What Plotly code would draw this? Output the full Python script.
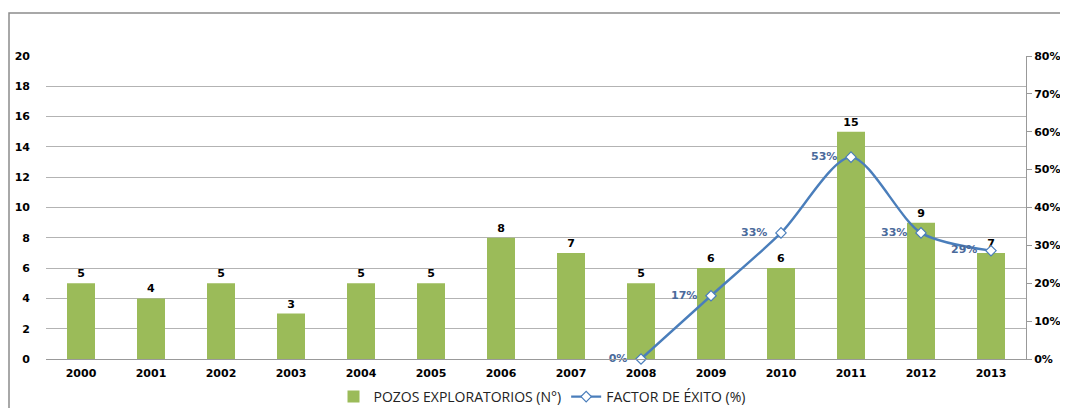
import plotly.graph_objects as go

years = ["2000", "2001", "2002", "2003", "2004", "2005", "2006", "2007",
         "2008", "2009", "2010", "2011", "2012", "2013"]
pozos = [5, 4, 5, 3, 5, 5, 8, 7, 5, 6, 6, 15, 9, 7]
factor_years = ["2008", "2009", "2010", "2011", "2012", "2013"]
factor = [0.0, 0.167, 0.333, 0.533, 0.333, 0.286]
factor_labels = ["0%", "17%", "33%", "53%", "33%", "29%"]

# page has an 8px body margin; figure coordinates are page coords minus 8
OFF = 8
W, H = 1068 - OFF, 408 - OFF
ml, mr, mt, mb = 46 - OFF, 1068 - 1026, 56 - OFF, 408 - 359
pw, ph = W - ml - mr, H - mt - mb

TICKFONT = dict(family="DejaVu Sans", size=11, color="#000000", weight="bold")

fig = go.Figure()
fig.add_trace(go.Bar(
    x=years, y=pozos, name="POZOS EXPLORATORIOS (N°)",
    marker=dict(color="#9bbb59", line=dict(width=0)),
    width=0.4,
    text=[str(v) for v in pozos], textposition="outside",
    textfont=dict(family="DejaVu Sans", size=11, color="#000000", weight="bold"),
    cliponaxis=False,
))
fig.add_trace(go.Scatter(
    x=factor_years, y=factor, name="FACTOR DE ÉXITO (%)", yaxis="y2",
    mode="lines+markers+text",
    line=dict(color="#4a7ebb", width=2.4, shape="spline", smoothing=0.8),
    marker=dict(symbol="diamond", size=8, color="white",
                line=dict(color="#4a7ebb", width=1.2)),
    text=[t + "\u00a0\u00a0" for t in factor_labels], textposition="middle left",
    textfont=dict(family="DejaVu Sans", size=11, color="#4a6a9b", weight="bold"),
    cliponaxis=False,
))

def px2paper_x(px):
    return (px - OFF - ml) / pw

def px2paper_y(py):
    return 1 - (py - OFF - mt) / ph

fig.update_layout(
    width=W, height=H,
    margin=dict(l=ml, r=mr, t=mt, b=mb, autoexpand=False),
    plot_bgcolor="white", paper_bgcolor="white",
    xaxis=dict(
        type="category", showgrid=False, showline=True, linecolor="#999999",
        linewidth=1, ticks="", tickfont=TICKFONT, automargin=False,
        range=[-0.5, 13.5], ticklabelstandoff=4,
    ),
    yaxis=dict(
        range=[0, 20], dtick=2, showgrid=True, gridcolor="#b3b3b3", gridwidth=1,
        showline=False, zeroline=False, ticks="", tickfont=TICKFONT,
        ticklabelstandoff=15, automargin=False,
    ),
    yaxis2=dict(
        range=[0, 0.8], dtick=0.1, tickformat=".0%", overlaying="y", side="right",
        showgrid=False, showline=True, linecolor="#999999", linewidth=1,
        ticks="outside", ticklen=5, tickcolor="#999999", zeroline=False,
        tickfont=TICKFONT, automargin=False,
    ),
    legend=dict(
        orientation="h", x=px2paper_x(542), xanchor="center", y=px2paper_y(381), yanchor="top",
        font=dict(family="Open Sans", size=14, color="#222222"),
        bgcolor="rgba(0,0,0,0)", tracegroupgap=0,
    ),
    showlegend=True,
    shapes=[dict(
        type="path", xref="paper", yref="paper",
        path=f"M {px2paper_x(9)} {px2paper_y(420)} L {px2paper_x(9)} {px2paper_y(13)} L {px2paper_x(1080)} {px2paper_y(13)}",
        line=dict(color="#8c8c8c", width=1.5),
    )],
)

fig.write_html("out.html")
